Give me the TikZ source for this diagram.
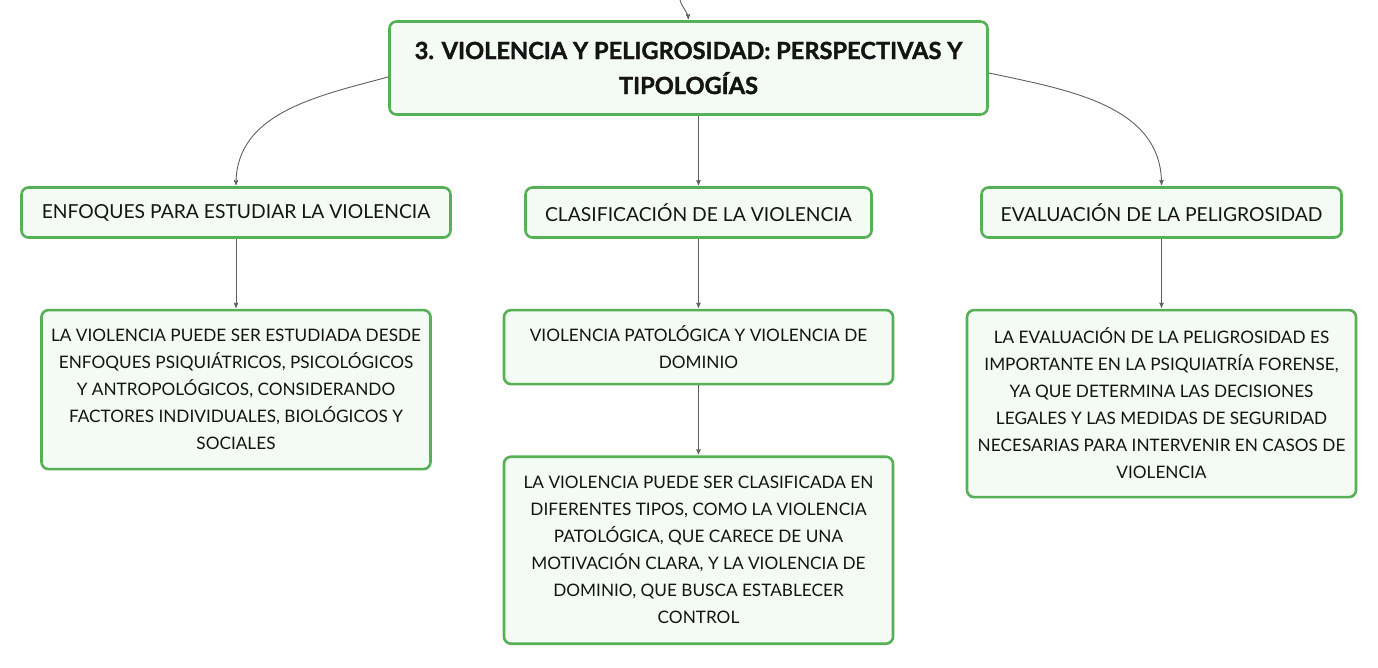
\documentclass[tikz,border=0pt]{standalone}
\usepackage{fontspec}
\setmainfont{Lato}
\newfontfamily\heavyfont{Lato}[BoldFeatures={FakeBold=1.5}]
\usetikzlibrary{arrows,positioning}
\definecolor{boxgreen}{RGB}{86,176,86}
\definecolor{boxfill}{RGB}{244,250,244}
\definecolor{linegray}{RGB}{95,95,95}
\definecolor{inkblack}{RGB}{20,20,20}
\tikzset{>=stealth',shorten >=1pt,node distance=70pt}
\tikzset{box/.style={draw=boxgreen,fill=boxfill,line width=2.6pt,rounded corners=7pt,
        align=center,inner sep=0pt,text=inkblack,minimum width=389pt}}
\tikzset{title/.style={box,minimum width=598pt,minimum height=93pt,
        font=\fontsize{23.6}{35}\heavyfont\bfseries}}
\tikzset{topic/.style={box,minimum height=50pt,font=\fontsize{19.3}{27}\selectfont}}
\tikzset{leaf/.style={box,font=\fontsize{17.2}{27}\selectfont}}
\tikzset{link/.style={->,draw=linegray,line width=0.9pt}}

\begin{document}
\begin{tikzpicture}[x=1pt,y=1pt]
        \useasboundingbox (0,0) rectangle (1378,-668);
        % main topic
        \coordinate (up) at (680,0);
        \node[title] (main) at (688.5,-68) {3. VIOLENCIA Y PELIGROSIDAD: PERSPECTIVAS Y\\TIPOLOGÍAS};
        % subtopics
        \node[topic,minimum width=429pt] (enf) at (236,-212.5) {ENFOQUES PARA ESTUDIAR LA VIOLENCIA};
        \node[topic,minimum width=346pt] (clas) at (698.5,-212.5) {CLASIFICACIÓN DE LA VIOLENCIA};
        \node[topic,minimum width=360pt] (eval) at (1161.5,-212.5) {EVALUACIÓN DE LA PELIGROSIDAD};
        % details
        \node[leaf,minimum height=159pt] (enfd) [below=of enf] {LA VIOLENCIA PUEDE SER ESTUDIADA DESDE\\ENFOQUES PSIQUIÁTRICOS, PSICOLÓGICOS\\Y ANTROPOLÓGICOS, CONSIDERANDO\\FACTORES INDIVIDUALES, BIOLÓGICOS Y\\SOCIALES};
        \node[leaf,minimum height=74pt] (clasd) [below=of clas] {VIOLENCIA PATOLÓGICA Y VIOLENCIA DE\\DOMINIO};
        \node[leaf,minimum height=187pt] (clase) [below=of clasd] {LA VIOLENCIA PUEDE SER CLASIFICADA EN\\DIFERENTES TIPOS, COMO LA VIOLENCIA\\PATOLÓGICA, QUE CARECE DE UNA\\MOTIVACIÓN CLARA, Y LA VIOLENCIA DE\\DOMINIO, QUE BUSCA ESTABLECER\\CONTROL};
        \node[leaf,minimum height=187pt] (evald) [below=of eval] {LA EVALUACIÓN DE LA PELIGROSIDAD ES\\IMPORTANTE EN LA PSIQUIATRÍA FORENSE,\\YA QUE DETERMINA LAS DECISIONES\\LEGALES Y LAS MEDIDAS DE SEGURIDAD\\NECESARIAS PARA INTERVENIR EN CASOS DE\\VIOLENCIA};
        \draw[link] (up) to[out=-75,in=95] (main.north);
        \draw[link] ([yshift=-9pt]main.west) to[out=195,in=90] (enf.north);
        \draw[link] (main.south -| clas) -- (clas.north);
        \draw[link] ([yshift=-5pt]main.east) to[out=-12,in=90] (eval.north);
        \draw[link] (enf) -- (enfd);
        \draw[link] (clas) -- (clasd);
        \draw[link] (clasd) -- (clase);
        \draw[link] (eval) -- (evald);
\end{tikzpicture}
\end{document}
